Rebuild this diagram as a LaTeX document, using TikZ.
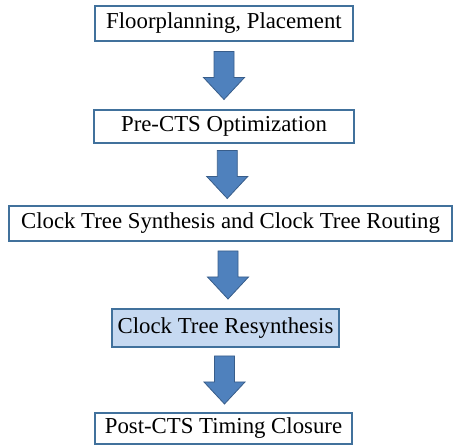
\documentclass[tikz,border=0pt]{standalone}
\usepackage{fontspec}
\setmainfont{Liberation Serif}
\usepackage{tikz}
\usetikzlibrary{calc, positioning}
\definecolor{boxedge}{HTML}{41719C}
\definecolor{arrowblue}{HTML}{4F81BD}
\definecolor{arrowedge}{HTML}{385D8A}
\definecolor{boxfill}{HTML}{C6D9F1}
\tikzset{
  stagebox/.style={draw=boxedge, line width=1.3pt, fill=white, inner sep=0pt,
    font=\fontsize{22.8}{26}\selectfont},
  blockarrow/.style={fill=arrowblue, draw=arrowedge, line width=0.8pt, line join=miter}
}

\begin{document}
\begin{tikzpicture}[x=1pt, y=1pt]
		\useasboundingbox (0,0) rectangle (453,446);
		\node[stagebox, minimum width=258, minimum height=35] (fp) at (224,422.5) {Floorplanning, Placement};
		\node[stagebox, minimum width=260, minimum height=33] (pre) at (224,319.5) {Pre-CTS Optimization};
		\node[stagebox, minimum width=443, minimum height=35] (cts) at (230.5,222.5) {Clock Tree Synthesis and Clock Tree Routing};
		\node[stagebox, fill=boxfill, minimum width=227, minimum height=38] (res) at (225.5,118) {Clock Tree Resynthesis};
		\node[stagebox, minimum width=257, minimum height=31] (post) at (223.5,17.5) {Post-CTS Timing Closure};
		
		% block arrows between the stages
		\foreach \a/\b in {fp/pre, pre/cts, cts/res, res/post}{
			\coordinate (m) at ($(\a.south)!0.5!(\b.north)$);
			\draw[blockarrow] ($(m)+(-10,24)$) -- ($(m)+(10,24)$) -- ($(m)+(10,-2)$) -- ($(m)+(20.5,-2)$)
				-- ($(m)+(0,-24)$) -- ($(m)+(-20.5,-2)$) -- ($(m)+(-10,-2)$) -- cycle;
		}
		\end{tikzpicture}
\end{document}
